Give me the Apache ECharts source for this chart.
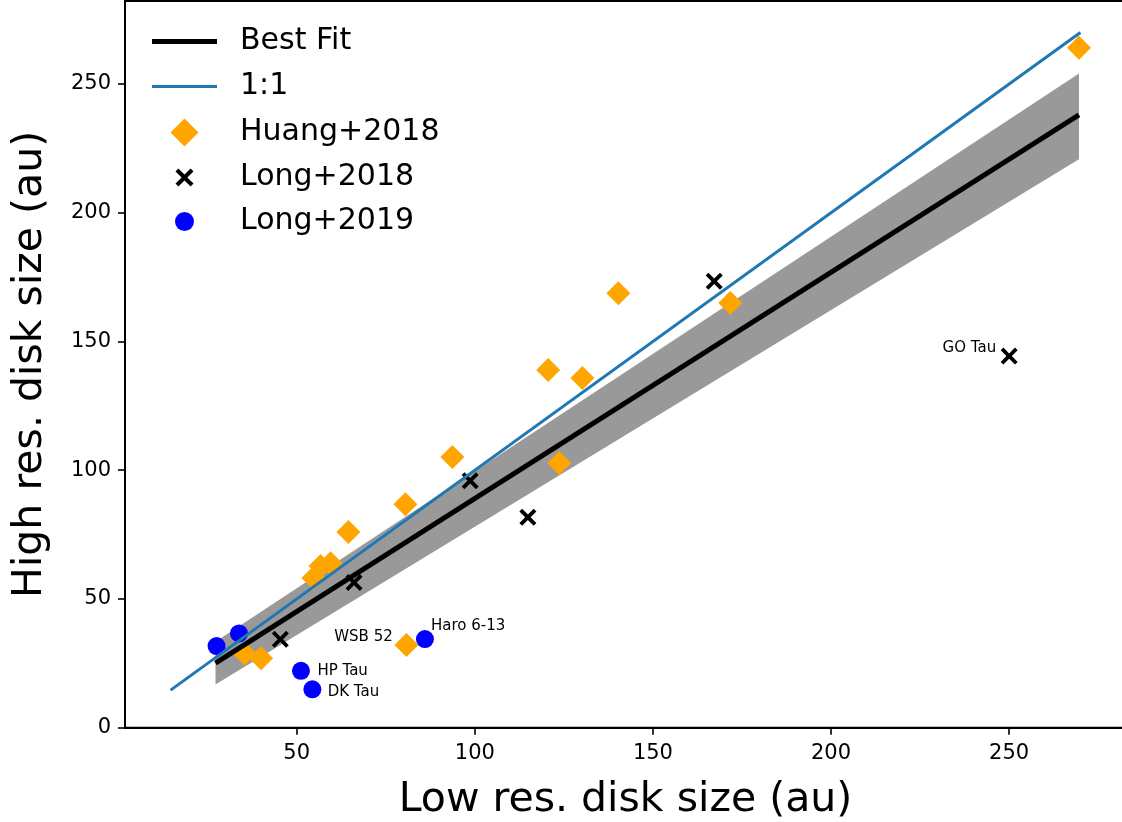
<!DOCTYPE html>
<html><head><meta charset="utf-8">
<script src="https://cdn.jsdelivr.net/npm/echarts@6/dist/echarts.min.js"></script>
<style>html,body{margin:0;padding:0;background:#fff}#c{width:1122px;height:822px}</style>
</head><body><div id="c"></div>
<script>
// ---- data ----
const xTicks = [50, 100, 150, 200, 250];
const yTicks = [0, 50, 100, 150, 200, 250];

const huangX = [269.6, 171.7, 140.3, 120.6, 130.2, 123.7, 93.7, 80.5, 64.5, 59.5, 56.7, 54.7, 35.4, 40.0, 80.8];
const huangY = [264.0, 164.9, 168.7, 138.9, 135.8, 102.8, 105.1, 86.8, 76.0, 63.9, 62.8, 58.1, 28.8, 27.0, 32.1];
const huangNames = ['', '', '', '', '', '', '', '', '', '', '', '', '', '', 'WSB 52'];

const long18X = [250.0, 167.2, 98.7, 114.9, 66.1, 45.4];
const long18Y = [144.3, 173.4, 95.9, 81.7, 56.4, 34.3];
const long18Names = ['GO Tau', '', '', '', '', ''];

const long19X = [27.5, 33.8, 51.2, 54.4, 86.0];
const long19Y = [31.7, 36.6, 22.1, 14.9, 34.4];
const long19Names = ['', '', 'HP Tau', 'DK Tau', 'Haro 6-13'];

const fitX = [27.2, 269.6];
const fitY = [25.1, 238.0];
const bandLow = [16.8, 220.7];
const bandHigh = [33.4, 254.0];

const oneX = [14.6, 270.0];
const oneY = [14.6, 270.0];

// ---- styles ----
const FONT = 'DejaVu Sans';
const labelStyles = {
  'GO Tau':   {position: 'left',  distance: 4.5, offset: [0, -8]},
  'WSB 52':   {position: 'left',  distance: 1.7, offset: [0, -7.5]},
  'HP Tau':   {position: 'right', distance: 7.4, offset: [0, 0]},
  'DK Tau':   {position: 'right', distance: 6.3, offset: [0, 2.4]},
  'Haro 6-13':{position: 'right', distance: 0,   offset: [-3, -13]}
};
function pts(xs, ys, names) {
  return xs.map((x, i) => {
    const d = {value: [x, ys[i]], name: names ? names[i] : ''};
    if (names && names[i]) {
      const ls = labelStyles[names[i]];
      d.label = Object.assign({show: true, formatter: names[i], fontSize: 15, fontFamily: FONT, color: '#000'}, ls);
    }
    return d;
  });
}
const crossPath = 'path://M0,1.6L1.6,0L5,3.4L8.4,0L10,1.6L6.6,5L10,8.4L8.4,10L5,6.6L1.6,10L0,8.4L3.4,5Z';

const chart = echarts.init(document.getElementById('c'), null, {renderer: 'canvas'});

// legend: one component per entry so each icon can have its own size
function legendFor(name, iconCenterY, iconW, iconH, padTop, extra) {
  const markerCenterX = 184.5;
  const left = (iconW >= 60) ? 152 : markerCenterX - iconW / 2;
  const padLeft = 240 - (left + iconW + 5);
  return Object.assign({
    data: [name], left: left, top: iconCenterY - 15 - padTop / 2, orient: 'vertical',
    itemWidth: iconW, itemHeight: iconH, itemGap: 0, padding: 0,
    selectedMode: false, symbolKeepAspect: true,
    textStyle: {fontSize: 30, fontFamily: FONT, color: '#000', padding: [padTop, 0, 0, padLeft]}
  }, extra || {});
}

const option = {
  animation: false,
  backgroundColor: '#fff',
  grid: {left: 125, top: 1, width: 1001, height: 726.7, show: true, borderColor: '#000', borderWidth: 2,
         backgroundColor: 'transparent', containLabel: false, outerBoundsMode: 'none'},
  xAxis: {
    type: 'value', min: 1.8, max: 282.8,
    name: 'Low res. disk size (au)', nameLocation: 'middle', nameGap: 52,
    nameTextStyle: {fontSize: 41, fontFamily: FONT, color: '#000'},
    axisLine: {show: true, onZero: false, lineStyle: {color: '#000', width: 2}},
    axisTick: {show: true, length: 7, lineStyle: {color: '#000', width: 1.6}, customValues: xTicks},
    axisLabel: {fontSize: 21, fontFamily: FONT, color: '#000', margin: 15, customValues: xTicks},
    splitLine: {show: false}
  },
  yAxis: {
    type: 'value', min: 0, max: 282.2,
    name: 'High res. disk size (au)', nameLocation: 'middle', nameGap: 74,
    nameTextStyle: {fontSize: 41, fontFamily: FONT, color: '#000'},
    axisLine: {show: true, onZero: false, lineStyle: {color: '#000', width: 2}},
    axisTick: {show: true, length: 7, lineStyle: {color: '#000', width: 1.6}, customValues: yTicks},
    axisLabel: {fontSize: 21, fontFamily: FONT, color: '#000', margin: 14, customValues: yTicks},
    splitLine: {show: false}
  },
  legend: [
    legendFor('Best Fit', 45, 65, 5, 7, {icon: 'rect', itemStyle: {color: '#000'}}),
    legendFor('1:1', 90, 65, 3, 7, {icon: 'rect', itemStyle: {color: '#1f77b4'}}),
    legendFor('Huang+2018', 132.5, 28, 28, 0),
    legendFor('Long+2018', 177.5, 18, 18, 0),
    legendFor('Long+2019', 221.5, 19, 19, 0)
  ],
  series: [
    {
      type: 'custom', name: 'band', z: 1, silent: true,
      data: fitX.map((x, i) => [x, bandLow[i], bandHigh[i]]),
      encode: {x: 0, y: [1, 2]},
      clip: true,
      renderItem: function (params, api) {
        if (params.dataIndex !== 0) return null;
        const poly = [];
        for (let i = 0; i < fitX.length; i++) poly.push(api.coord([fitX[i], bandLow[i]]));
        for (let i = fitX.length - 1; i >= 0; i--) poly.push(api.coord([fitX[i], bandHigh[i]]));
        return {type: 'polygon', shape: {points: poly}, style: {fill: '#999999', stroke: null}};
      }
    },
    {
      type: 'scatter', name: 'Huang+2018', z: 3, symbol: 'diamond', symbolSize: 24,
      itemStyle: {color: '#FFA500', opacity: 1}, data: pts(huangX, huangY, huangNames)
    },
    {
      type: 'scatter', name: 'Long+2018', z: 3, symbol: crossPath, symbolSize: 17,
      itemStyle: {color: '#000', opacity: 1}, data: pts(long18X, long18Y, long18Names)
    },
    {
      type: 'scatter', name: 'Long+2019', z: 3, symbol: 'circle', symbolSize: 18,
      itemStyle: {color: '#0000FF', opacity: 1}, data: pts(long19X, long19Y, long19Names)
    },
    {
      type: 'line', name: 'Best Fit', z: 4, symbol: 'none', showSymbol: false,
      lineStyle: {color: '#000', width: 5}, itemStyle: {color: '#000'},
      data: fitX.map((x, i) => [x, fitY[i]])
    },
    {
      type: 'line', name: '1:1', z: 4, symbol: 'none', showSymbol: false,
      lineStyle: {color: '#1f77b4', width: 3}, itemStyle: {color: '#1f77b4'},
      data: oneX.map((x, i) => [x, oneY[i]])
    }
  ]
};
chart.setOption(option);
</script>
</body></html>
